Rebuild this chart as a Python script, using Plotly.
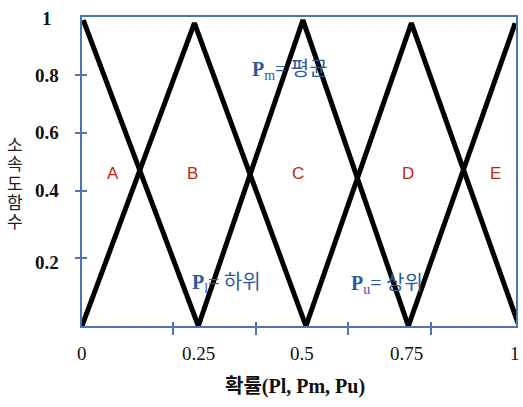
import plotly.graph_objects as go

# Data: two zigzag membership lines (x = probability, y = membership)
zig1_x = [0.003, 0.268, 0.509, 0.752, 0.998]
zig1_y = [0.99, 0.0, 0.99, 0.0, 0.98]
zig2_x = [0.0, 0.259, 0.516, 0.759, 1.007]
zig2_y = [0.0, 0.98, 0.0, 0.98, 0.0]

# tick marks (axis tick positions)
x_tick_pos = [0.209, 0.401, 0.614, 0.805]
y_tick_pos = [0.220, 0.437, 0.625, 0.812]

# tick labels and where they sit
x_labels = ["0", "0.25", "0.5", "0.75", "1"]
x_label_pos = [0.0, 0.268, 0.507, 0.748, 0.998]
y_labels = ["1", "0.8", "0.6", "0.4", "0.2"]
y_label_pos = [0.994, 0.812, 0.625, 0.437, 0.207]

# region labels
regions = ["A", "B", "C", "D", "E"]
region_x = [0.071, 0.255, 0.498, 0.752, 0.952]
region_y = [0.495, 0.495, 0.495, 0.495, 0.495]

# y-axis title, drawn as stacked characters
y_title = "소속도함수"

BLUE = "#2f5a9a"
AXIS = "#4a76b0"
RED = "#c0280f"

fig = go.Figure()
for xs, ys in [(zig1_x, zig1_y), (zig2_x, zig2_y)]:
    fig.add_trace(go.Scatter(x=xs, y=ys, mode="lines",
                             line=dict(color="black", width=5),
                             showlegend=False, hoverinfo="skip"))

axis_common = dict(range=[0, 1], showgrid=False, zeroline=False,
                   showline=True, linecolor=AXIS, linewidth=1.5,
                   tickcolor=AXIS, tickwidth=1.5, showticklabels=False)

fig.update_layout(
    width=523, height=407,
    margin=dict(l=82, r=5, t=17, b=81),
    plot_bgcolor="white", paper_bgcolor="white",
    xaxis=dict(**axis_common, mirror=True, tickmode="array",
               tickvals=x_tick_pos, ticks="outside", ticklen=7),
    yaxis=dict(**axis_common, mirror=True, tickmode="array",
               tickvals=y_tick_pos, ticks="outside", ticklen=5),
    xaxis2=dict(**axis_common, overlaying="x", matches="x", tickmode="array",
                tickvals=x_tick_pos, ticks="inside", ticklen=4),
    yaxis2=dict(**axis_common, overlaying="y", matches="y", tickmode="array",
                tickvals=y_tick_pos, ticks="inside", ticklen=5),
)
# dummy trace to activate overlay axes
fig.add_trace(go.Scatter(x=[None], y=[None], xaxis="x2", yaxis="y2",
                         showlegend=False, hoverinfo="skip"))

tick_font = dict(family="Liberation Serif", size=19, color="#111")
for lab, xv in zip(x_labels, x_label_pos):
    fig.add_annotation(x=xv, y=-0.09, xref="x", yref="paper", text=lab,
                       showarrow=False, font=tick_font, xanchor="center", yanchor="middle")
for lab, yv in zip(y_labels, y_label_pos):
    fig.add_annotation(x=-0.080, y=yv, xref="paper", yref="y", text="<b>" + lab + "</b>",
                       showarrow=False, font=tick_font, xanchor="center", yanchor="middle")

for lab, xv, yv in zip(regions, region_x, region_y):
    fig.add_annotation(x=xv, y=yv, text=lab, showarrow=False,
                       xanchor="center", yanchor="middle",
                       font=dict(family="Liberation Sans", size=17, color=RED))

def ptext(sub, kor):
    return ("<span style='font-family:Liberation Serif'><b>P</b><sub>" + sub +
            "</sub>=</span> " + kor)

p_font = dict(family="Noto Sans CJK KR", size=20, color=BLUE)
fig.add_annotation(x=(251 - 82) / 436, y=(326 - 68) / 309, xanchor="left", yanchor="middle",
                   text=ptext("m", "평균"), showarrow=False, font=p_font)
fig.add_annotation(x=(190 - 82) / 436, y=(326 - 281) / 309, xanchor="left", yanchor="middle",
                   text=ptext("l", "하위"), showarrow=False, font=p_font)
fig.add_annotation(x=(350 - 82) / 436, y=(326 - 282) / 309, xanchor="left", yanchor="middle",
                   text=ptext("u", "상위"), showarrow=False, font=p_font)

# axis titles
fig.add_annotation(x=0.491, y=-0.196, xref="paper", yref="paper",
                   text="<b>확률(Pl, Pm, Pu)</b>", showarrow=False,
                   xanchor="center", yanchor="middle",
                   font=dict(family="Liberation Serif, Noto Sans CJK KR", size=20, color="#111"))
for i, ch in enumerate(y_title):
    fig.add_annotation(x=(15 - 82) / 436, y=(326 - (143 + 19.5 * i)) / 309,
                       xref="paper", yref="paper", text=ch, showarrow=False,
                       xanchor="center", yanchor="middle", borderpad=0,
                       font=dict(family="Noto Sans CJK KR", size=17, color="#222"))

fig.write_html("out.html", post_script="document.body.style.margin='0';",
               config={"displayModeBar": False})
